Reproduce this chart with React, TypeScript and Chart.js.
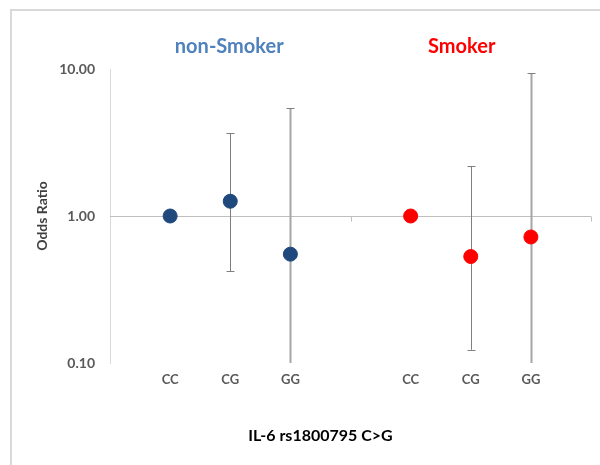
import React, { useEffect, useRef } from 'react';
import { Chart, registerables } from 'chart.js';

Chart.register(...registerables);

const categories = ['', 'CC', 'CG', 'GG', '', 'CC', 'CG', 'GG', ''];
const groupTitles = ['non-Smoker', 'Smoker'];
const nonSmokerOR = [null, 1.0, 1.26, 0.55, null, null, null, null, null];
const nonSmokerLow = [null, null, 0.42, 0.06, null, null, null, null, null];
const nonSmokerHigh = [null, null, 3.67, 5.43, null, null, null, null, null];
const smokerOR = [null, null, null, null, null, 1.0, 0.53, 0.72, null];
const smokerLow = [null, null, null, null, null, null, 0.123, 0.05, null];
const smokerHigh = [null, null, null, null, null, null, 2.19, 9.4, null];
const yTicks = [0.1, 1, 10];
const xTitle = 'IL-6 rs1800795 C>G';
const yTitle = 'Odds Ratio';

const FONT = 'Lato, "Open Sans", sans-serif';

const decorPlugin = {
  id: 'decor',
  beforeDraw(chart: any) {
    const ctx = chart.ctx;
    ctx.save();
    ctx.fillStyle = '#ffffff';
    ctx.fillRect(0, 0, chart.width, chart.height);
    ctx.fillStyle = '#d9d9d9';
    ctx.fillRect(10, 9, chart.width - 10, 2);
    ctx.fillRect(10, 9, 2, chart.height - 9);
    ctx.restore();
  },
  beforeDatasetsDraw(chart: any) {
    const ctx = chart.ctx;
    const xs = chart.scales.x;
    const ys = chart.scales.y;
    const area = chart.chartArea;
    ctx.save();
    const y1 = Math.round(ys.getPixelForValue(1)) + 0.5;
    ctx.strokeStyle = '#bfbfbf';
    ctx.lineWidth = 1;
    ctx.beginPath();
    ctx.moveTo(area.left, y1);
    ctx.lineTo(area.right, y1);
    [4, 8].forEach((i) => {
      const x = Math.round(xs.getPixelForValue(i)) + 0.5;
      ctx.moveTo(x, y1);
      ctx.lineTo(x, y1 + 5);
    });
    ctx.stroke();

    ctx.beginPath();
    ctx.rect(area.left, area.top, area.right - area.left, area.bottom - area.top);
    ctx.clip();
    const sets = [
      [nonSmokerLow, nonSmokerHigh],
      [smokerLow, smokerHigh],
    ];
    sets.forEach(([lows, highs]) => {
      lows.forEach((lo, i) => {
        const hi = highs[i];
        if (lo == null || hi == null) return;
        const x = Math.round(xs.getPixelForValue(i)) + 0.5;
        const yl = ys.getPixelForValue(lo);
        const yh = ys.getPixelForValue(hi);
        const clipped = lo < ys.min;
        ctx.strokeStyle = clipped ? '#a6a6a6' : '#7f7f7f';
        ctx.lineWidth = clipped ? 2 : 1;
        ctx.beginPath();
        ctx.moveTo(x, yh);
        ctx.lineTo(x, Math.min(yl, area.bottom + 2));
        ctx.stroke();
        ctx.strokeStyle = '#7f7f7f';
        ctx.lineWidth = 1;
        ctx.beginPath();
        const capH = Math.round(yh) + 0.5;
        ctx.moveTo(x - 4, capH);
        ctx.lineTo(x + 4, capH);
        if (!clipped) {
          const capL = Math.round(yl) + 0.5;
          ctx.moveTo(x - 4, capL);
          ctx.lineTo(x + 4, capL);
        }
        ctx.stroke();
      });
    });
    ctx.restore();
  },
  afterDraw(chart: any) {
    const ctx = chart.ctx;
    const xs = chart.scales.x;
    const area = chart.chartArea;
    ctx.save();
    ctx.textAlign = 'center';
    ctx.textBaseline = 'alphabetic';
    ctx.font = `bold 20px ${FONT}`;
    ctx.fillStyle = '#4f81bd';
    ctx.fillText(groupTitles[0], xs.getPixelForValue(2) - 1, 53);
    ctx.fillStyle = '#ff0000';
    ctx.fillText(groupTitles[1], xs.getPixelForValue(6) - 9, 53);

    ctx.font = `bold 16px ${FONT}`;
    ctx.fillStyle = '#000000';
    ctx.fillText(xTitle, (area.left + area.right) / 2 - 30, 441);

    ctx.translate(47, (area.top + area.bottom) / 2);
    ctx.rotate(-Math.PI / 2);
    ctx.font = `bold 14px ${FONT}`;
    ctx.fillStyle = '#404040';
    ctx.fillText(yTitle, 0, 0);
    ctx.restore();
  },
};

export default function App() {
  const ref = useRef<HTMLCanvasElement>(null);
  useEffect(() => {
    if (!ref.current) return;
    const chart = new Chart(ref.current, {
      type: 'line',
      data: {
        labels: categories,
        datasets: [
          {
            label: groupTitles[0],
            data: nonSmokerOR,
            showLine: false,
            pointRadius: 7,
            pointHoverRadius: 7,
            pointBackgroundColor: '#1f497d',
            pointBorderColor: '#1f497d',
            borderColor: '#1f497d',
          },
          {
            label: groupTitles[1],
            data: smokerOR,
            showLine: false,
            pointRadius: 7,
            pointHoverRadius: 7,
            pointBackgroundColor: '#ff0000',
            pointBorderColor: '#ff0000',
            borderColor: '#ff0000',
          },
        ],
      },
      options: {
        responsive: false,
        animation: false,
        devicePixelRatio: 1,
        layout: { padding: { left: 0, top: 69, right: 7, bottom: 0 } },
        plugins: {
          legend: { display: false },
          title: { display: false },
          tooltip: { enabled: false },
        },
        scales: {
          x: {
            type: 'category',
            offset: false,
            grid: { display: false, drawTicks: false },
            border: { display: false },
            ticks: {
              autoSkip: false,
              maxRotation: 0,
              padding: 9,
              color: '#595959',
              font: { family: FONT, size: 13, weight: 'bold' },
            },
            afterFit: (s: any) => {
              s.height = 102;
            },
          },
          y: {
            type: 'logarithmic',
            min: 0.1,
            max: 10,
            grid: { display: false, drawTicks: false },
            border: { display: true, color: '#d9d9d9', width: 1 },
            afterBuildTicks: (s: any) => {
              s.ticks = yTicks.map((v) => ({ value: v }));
            },
            ticks: {
              padding: 15,
              color: '#595959',
              font: { family: FONT, size: 14, weight: 'bold' },
              callback: (v: any) => Number(v).toFixed(2),
            },
            afterFit: (s: any) => {
              s.width = 110;
            },
          },
        },
      },
      plugins: [decorPlugin],
    });
    return () => chart.destroy();
  }, []);
  return (
    <div style={{ position: 'fixed', left: 0, top: 0, width: 600, height: 465 }}>
      <canvas ref={ref} width={600} height={465} />
    </div>
  );
}
